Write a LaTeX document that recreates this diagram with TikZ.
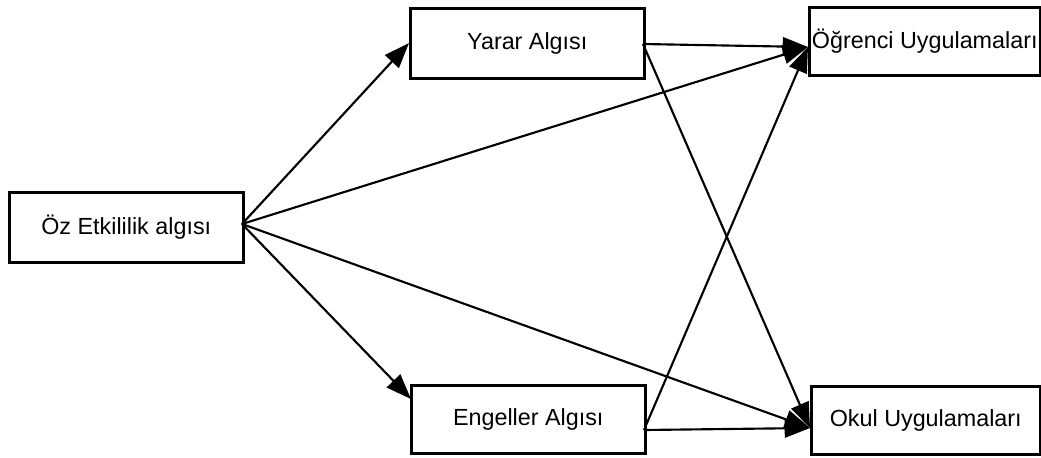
\documentclass[tikz,border=0pt]{standalone}
\usepackage{fontspec}
\setmainfont{Liberation Sans}
\usetikzlibrary{arrows.meta}
\begin{document}
\begin{tikzpicture}[x=0.75pt,y=-0.75pt,
  box/.style={draw=black,line width=1.9pt,fill=white,inner sep=0pt,font=\fontsize{17.5}{20}\selectfont},
  arr/.style={line width=1.6pt,-{Triangle[length=19pt,width=14pt]}}]
\useasboundingbox (0,0) rectangle (1041,457);
\node[box,minimum width=234*0.75pt,minimum height=70*0.75pt,anchor=north west] (oz) at (8,191) {Öz Etkililik algısı};
\node[box,minimum width=234*0.75pt,minimum height=70*0.75pt,anchor=north west] (yar) at (409,7) {Yarar Algısı};
\node[box,minimum width=234*0.75pt,minimum height=68*0.75pt,anchor=north west] (eng) at (410,384) {Engeller Algısı};
\node[box,minimum width=231*0.75pt,minimum height=68*0.75pt,anchor=north west] (ogr) at (808,6) {Öğrenci Uygulamaları};
\node[box,minimum width=229*0.75pt,minimum height=68*0.75pt,anchor=north west] (okul) at (810,385) {Okul Uygulamaları};
\coordinate (ozo) at (242,224);
\coordinate (yaro) at (643,44);
\coordinate (engo) at (644,430);
\coordinate (yari) at (409,43);
\coordinate (engi) at (411,399);
\coordinate (ogri) at (808,47);
\coordinate (okuli) at (810,428);
\draw[arr] (ozo) -- (yari);
\draw[arr] (ozo) -- (engi);
\draw[arr] (ozo) -- (ogri);
\draw[arr] (ozo) -- (okuli);
\draw[arr] (yaro) -- (ogri);
\draw[arr] (yaro) -- (okuli);
\draw[arr] (engo) -- (ogri);
\draw[arr] (engo) -- (okuli);
\end{tikzpicture}
\end{document}
